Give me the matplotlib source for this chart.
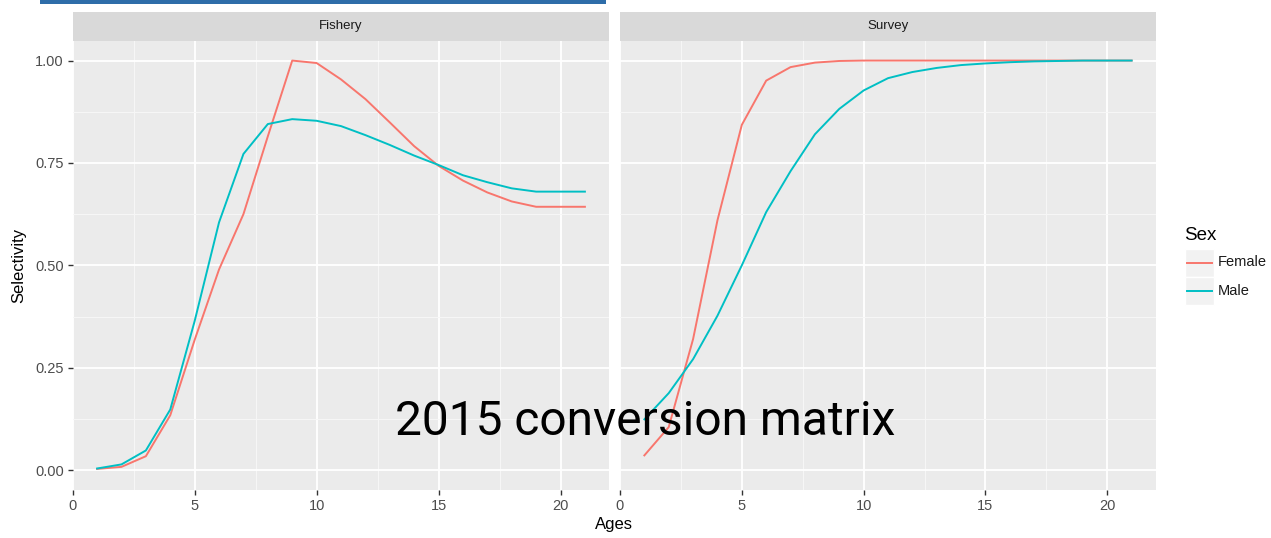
import matplotlib.pyplot as plt
from matplotlib.patches import Rectangle
from matplotlib.lines import Line2D

# selectivity at age
ages = list(range(1, 22))
fishery_female = [0.003, 0.008, 0.034, 0.134, 0.318, 0.49, 0.625, 0.815, 1.0, 0.994,
                  0.954, 0.906, 0.849, 0.791, 0.743, 0.707, 0.678, 0.656, 0.643, 0.643, 0.643]
fishery_male = [0.004, 0.014, 0.048, 0.148, 0.364, 0.605, 0.772, 0.845, 0.857, 0.853,
                0.840, 0.818, 0.794, 0.768, 0.745, 0.720, 0.703, 0.688, 0.680, 0.680, 0.680]
survey_female = [0.036, 0.105, 0.32, 0.61, 0.843, 0.951, 0.984, 0.995, 0.999, 1.0,
                 1.0, 1.0, 1.0, 1.0, 1.0, 1.0, 1.0, 1.0, 1.0, 1.0, 1.0]
survey_male = [0.124, 0.188, 0.271, 0.377, 0.50, 0.63, 0.73, 0.82, 0.882, 0.927,
               0.957, 0.972, 0.982, 0.989, 0.993, 0.996, 0.998, 0.999, 1.0, 1.0, 1.0]

panels = ["Fishery", "Survey"]
sexes = ["Female", "Male"]
x_ticks = [0, 5, 10, 15, 20]
y_ticks = [0.0, 0.25, 0.5, 0.75, 1.0]
y_tick_labels = ["0.00", "0.25", "0.50", "0.75", "1.00"]

COLORS = {"Female": "#F8766D", "Male": "#00BFC4"}
W, H = 1271, 538

plt.rcParams["font.family"] = ["Liberation Sans", "DejaVu Sans"]

fig = plt.figure(figsize=(W / 100, H / 100), dpi=100)


def px_axes(x0, y0, x1, y1):
    """Add axes from pixel box (top-left origin)."""
    return fig.add_axes([x0 / W, 1 - y1 / H, (x1 - x0) / W, (y1 - y0) / H])


panel_boxes = [(72.7, 40.7, 609.3, 490), (620, 40.7, 1156, 490)]
data = {
    "Fishery": {"Female": fishery_female, "Male": fishery_male},
    "Survey": {"Female": survey_female, "Male": survey_male},
}

for i, (name, box) in enumerate(zip(panels, panel_boxes)):
    ax = px_axes(*box)
    ax.set_facecolor("#EBEBEB")
    for s in ax.spines.values():
        s.set_visible(False)
    ax.set_xlim(0, 22)
    ax.set_ylim(-0.0485, 1.0485)
    ax.set_xticks(x_ticks)
    ax.set_xticks([2.5, 7.5, 12.5, 17.5], minor=True)
    ax.set_yticks(y_ticks)
    ax.set_yticks([0.125, 0.375, 0.625, 0.875], minor=True)
    ax.grid(which="major", color="white", linewidth=1.3)
    ax.grid(which="minor", color="#F7F7F7", linewidth=0.7)
    ax.set_axisbelow(True)
    ax.tick_params(which="minor", length=0)
    ax.tick_params(which="major", length=3.5, width=1, color="#333333",
                   labelcolor="#4D4D4D", labelsize=10.5, pad=3)
    ax.set_xticklabels([str(t) for t in x_ticks])
    if i == 0:
        ax.set_yticklabels(y_tick_labels)
        ax.set_ylabel("Selectivity", fontsize=12, color="black", labelpad=6)
    else:
        ax.tick_params(axis="y", which="major", length=0, labelleft=False)
    for sex in sexes:
        ax.plot(ages, data[name][sex], color=COLORS[sex], linewidth=1.4)

    strip = px_axes(box[0], 12.3, box[2], 40.7)
    strip.set_facecolor("#D9D9D9")
    strip.set_xticks([])
    strip.set_yticks([])
    for s in strip.spines.values():
        s.set_visible(False)
    strip.text(0.5, 0.5, name, ha="center", va="center", fontsize=9.5,
               color="#1A1A1A", transform=strip.transAxes)

fig.text(614 / W, 1 - 525 / H, "Ages", ha="center", va="center", fontsize=12)

# legend drawn in a pixel-space overlay
lg = px_axes(0, 0, W, H)
lg.set_xlim(0, W)
lg.set_ylim(H, 0)
lg.axis("off")
lg.text(1184, 235, "Sex", ha="left", va="center", fontsize=13.5)
for j, sex in enumerate(sexes):
    yc = 262.5 + j * 28.5
    lg.add_patch(Rectangle((1185, yc - 14), 29, 28, facecolor="#F2F2F2",
                           edgecolor="white", linewidth=1))
    lg.add_line(Line2D([1187, 1212], [yc, yc], color=COLORS[sex], linewidth=1.4))
    lg.text(1218, yc, sex, ha="left", va="center", fontsize=10.5, color="#1A1A1A")

# blue header bar and slide caption
lg.add_patch(Rectangle((40, 0), 566, 4, facecolor="#2E6DA9", edgecolor="none"))
fig.text(395 / W, 1 - 435 / H, "2015 conversion matrix", ha="left", va="baseline",
         fontsize=34.5, family="Roboto", color="black")

fig.savefig("out.png", dpi=100)
